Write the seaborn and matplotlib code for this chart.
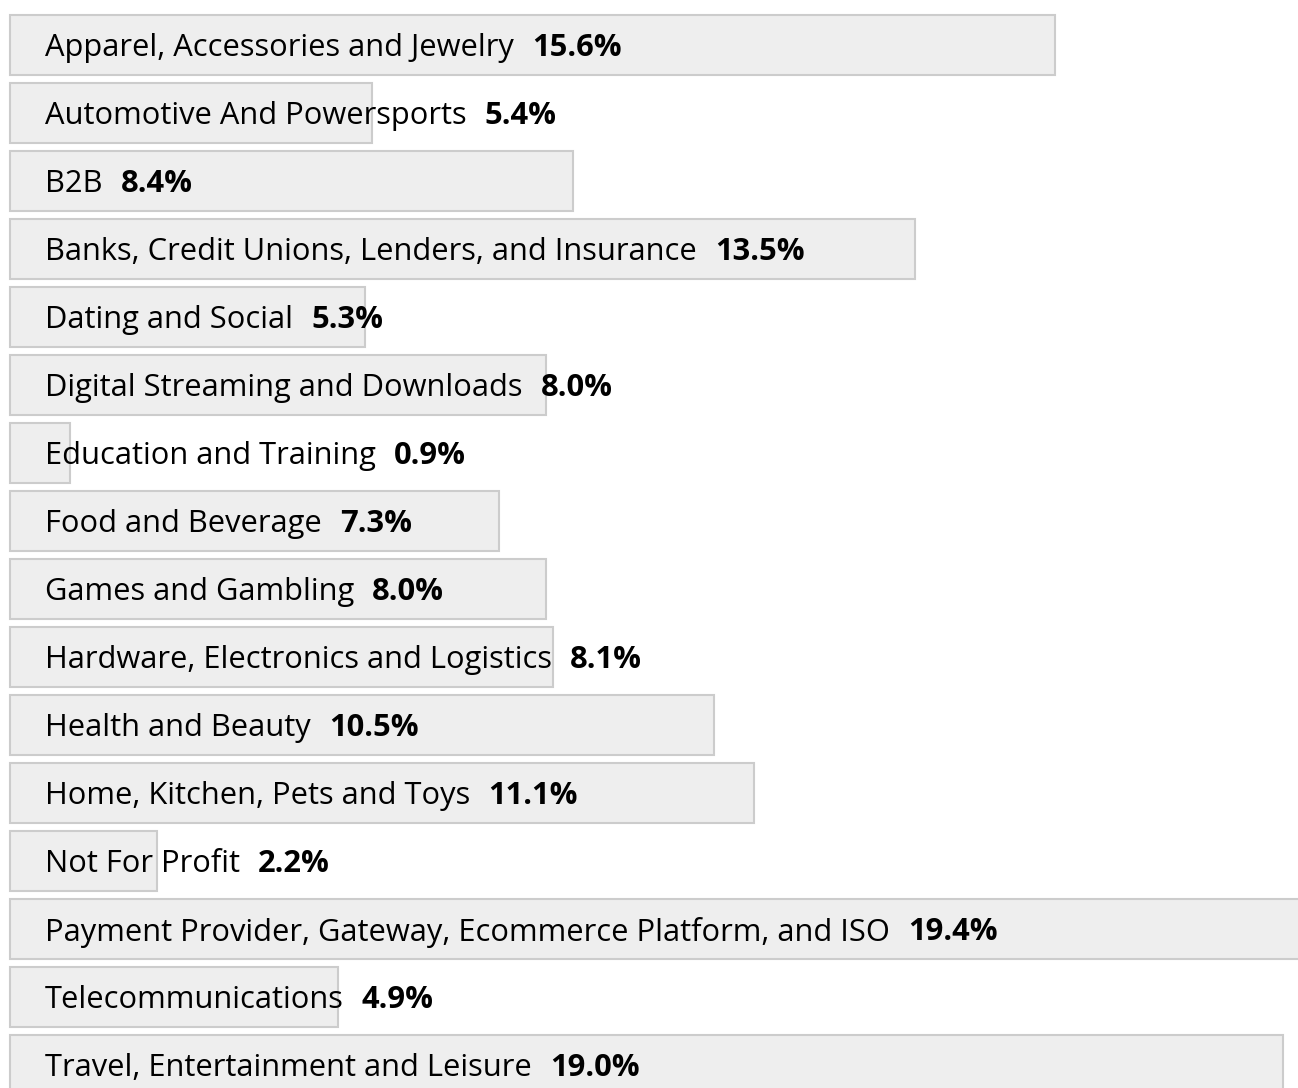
import matplotlib
matplotlib.use("Agg")
import matplotlib.pyplot as plt
import seaborn as sns

# --- dados ---
categorias = [
    "Apparel, Accessories and Jewelry",
    "Automotive And Powersports",
    "B2B",
    "Banks, Credit Unions, Lenders, and Insurance",
    "Dating and Social",
    "Digital Streaming and Downloads",
    "Education and Training",
    "Food and Beverage",
    "Games and Gambling",
    "Hardware, Electronics and Logistics",
    "Health and Beauty",
    "Home, Kitchen, Pets and Toys",
    "Not For Profit",
    "Payment Provider, Gateway, Ecommerce Platform, and ISO",
    "Telecommunications",
    "Travel, Entertainment and Leisure",
]
percentuais = [15.6, 5.4, 8.4, 13.5, 5.3, 8.0, 0.9, 7.3, 8.0, 8.1, 10.5, 11.1, 2.2, 19.4, 4.9, 19.0]

sns.set_theme(style="white")
plt.rcParams["font.family"] = ["Open Sans", "DejaVu Sans"]

fig = plt.figure(figsize=(12.98, 10.88), dpi=100)
ax = fig.add_axes([0, 0, 1, 1])

sns.barplot(x=percentuais, y=categorias, orient="h", color="#eeeeee",
            edgecolor="#cccccc", linewidth=1.5, width=0.88, saturation=1, ax=ax)

# escala: ~67 px por ponto percentual, barras começam em x=10px
px = 67.0
x0 = -10 / px
ax.set_xlim(x0, x0 + 1298 / px)
ax.set_ylim((1088 - 45) / 68, -45 / 68)
ax.axis("off")

for i, (cat, val) in enumerate(zip(categorias, percentuais)):
    rotulo = ax.text(x0 + 45 / px, i + 0.05, cat, fontsize=22.2, color="black",
                     va="center", ha="left")
    ax.annotate(f"{val:.1f}%", xy=(1, 0.5), xycoords=rotulo,
                xytext=(13, 0), textcoords="offset points",
                fontsize=22.2, fontweight="bold", color="black",
                va="center", ha="left")

fig.savefig("out.png", dpi=100)
